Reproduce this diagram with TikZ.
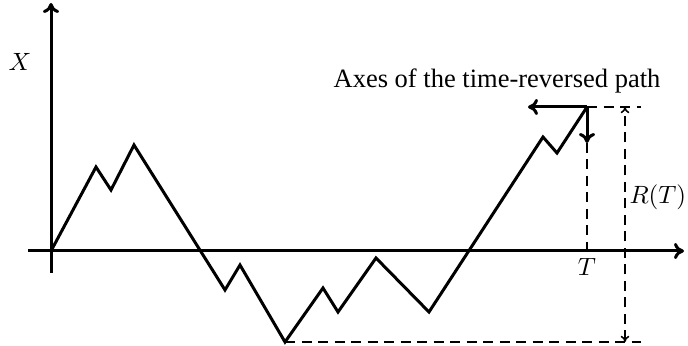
\documentclass[tikz,border=0pt]{standalone}
\usepackage{fontspec}
\setmainfont{Liberation Serif}
\usetikzlibrary{arrows.meta}
\begin{document}
\begin{tikzpicture}[x=0.4pt,y=-0.4pt,
  axisline/.style={line width=1.2pt,-{To[length=4pt,width=6.5pt]}},
  pathline/.style={line width=1.2pt,line join=miter},
  dashline/.style={line width=0.6pt,dash pattern=on 4pt off 2.6pt},
  lbl/.style={inner sep=0pt}]
\useasboundingbox (0,0) rectangle (688,346);
% axes
\coordinate (xl) at (28,251);
\coordinate (xr) at (684,251);
\coordinate (yb) at (51,273);
\coordinate (yt) at (51,3);
\draw[axisline] (xl) -- (xr);
\draw[axisline] (yb) -- (yt);
% path vertices
\coordinate (p0) at (51,251);
\coordinate (p1) at (96,167);
\coordinate (p2) at (111,190);
\coordinate (p3) at (134,145);
\coordinate (p4) at (225,290);
\coordinate (p5) at (240,265);
\coordinate (p6) at (285,342);
\coordinate (p7) at (323,288);
\coordinate (p8) at (338,312);
\coordinate (p9) at (376,258);
\coordinate (p10) at (429,312);
\coordinate (p11) at (543,137);
\coordinate (p12) at (557,153);
\coordinate (pe) at (587,107);
\draw[pathline] (p0) -- (p1) -- (p2) -- (p3) -- (p4) -- (p5) -- (p6) -- (p7) -- (p8) -- (p9) -- (p10) -- (p11) -- (p12) -- (pe);
% reversed axes
\coordinate (ra) at (528,107);
\coordinate (rb) at (587,143);
\draw[axisline] (pe) -- (ra);
\draw[axisline] (pe) -- (rb);
% dashed helpers
\coordinate (tx) at (587,251);
\coordinate (hr) at (641,107);
\coordinate (br) at (641,342);
\coordinate (rt) at (625,107);
\coordinate (rbm) at (625,342);
\draw[dashline] (rb) -- (tx);
\draw[dashline] (pe) -- (hr);
\draw[dashline] (p6) -- (br);
\draw[dashline,{To[length=2.5pt,width=3.5pt]}-{To[length=2.5pt,width=3.5pt]}] (rbm) -- (rt);
% labels
\node[lbl] (X) at (20,62) {$X$};
\node[lbl,font=\fontsize{10.6}{12}\selectfont] (title) at (497,81) {Axes of the time-reversed path};
\node[lbl] (T) at (587,267) {$T$};
\node[lbl,anchor=west] (R) at (629,197) {$R(T)$};
\end{tikzpicture}
\end{document}
